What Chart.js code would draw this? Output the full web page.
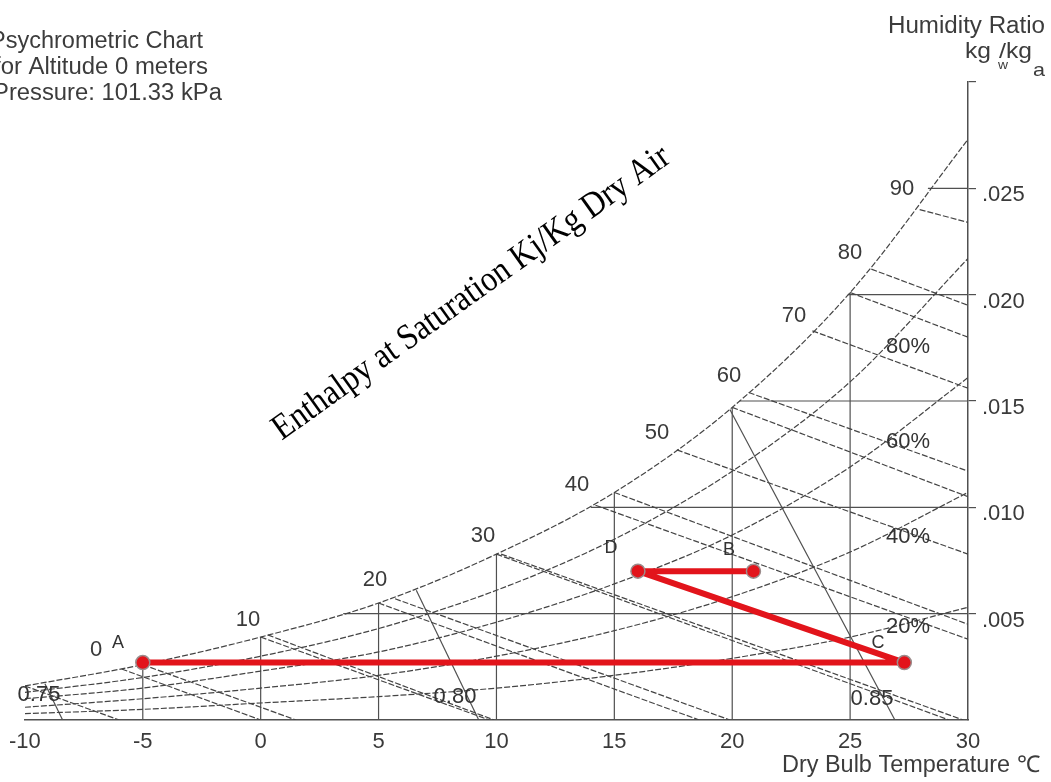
<!DOCTYPE html>
<html>
<head>
<meta charset="utf-8">
<script src="https://cdn.jsdelivr.net/npm/chart.js@4.4.1/dist/chart.umd.min.js"></script>
<style>
  html, body { margin: 0; padding: 0; background: #fff; }
  canvas { display: block; }
</style>
</head>
<body>
<canvas id="psy" width="1051" height="782"></canvas>
<script>
// dry bulb steps used for the curves (deg C)
const tempSteps = [-10, -5, 0, 5, 10, 15, 20, 25, 30];
const tempTicks = [-10, -5, 0, 5, 10, 15, 20, 25, 30];
const humidityTicks = [0.005, 0.010, 0.015, 0.020, 0.025, 0.030];

// humidity ratio, kg/kg
const saturationW = [0.0016, 0.0026, 0.0039, 0.0055, 0.0078, 0.0107, 0.0147, 0.0201, 0.0273];
const rh80W = [0.0013, 0.0020, 0.0030, 0.0043, 0.0061, 0.0085, 0.0117, 0.0159, 0.0217];
const rh60W = [0.0010, 0.0015, 0.0023, 0.0032, 0.0046, 0.0064, 0.0087, 0.0119, 0.0161];
const rh40W = [0.0006, 0.0010, 0.0015, 0.0021, 0.0030, 0.0042, 0.0058, 0.0079, 0.0107];
const rh20W = [0.0003, 0.0005, 0.0008, 0.0011, 0.0015, 0.0021, 0.0029, 0.0039, 0.0053];

// enthalpy lines (kJ/kg) : start on saturation, end on axis
const enthalpyValues = [0, 10, 20, 30, 40, 50, 60, 70, 80, 90];
const enthalpyStartT = [-5.9, 0.3, 5.7, 10.2, 14.2, 17.65, 20.7, 23.4, 25.9, 27.95];
const enthalpyStartW = [0.0024, 0.0040, 0.0057, 0.0078, 0.0101, 0.0127, 0.0154, 0.0183, 0.0212, 0.0240];
const enthalpyEndT = [0, 9.9, 19.9, 29.8, 30, 30, 30, 30, 30, 30];
const enthalpyEndW = [0, 0, 0, 0, 0.0038, 0.0078, 0.0117, 0.0156, 0.0195, 0.0234];

// wet bulb lines
const wetBulbT = [-10, -5, 0, 5, 10, 15, 20, 25];
const wetBulbStartW = [0.0016, 0.0026, 0.0039, 0.0055, 0.0078, 0.0107, 0.0147, 0.0201];
const wetBulbEndT = [-6.0, 1.5, 9.7, 18.6, 29.2, 30, 30, 30];
const wetBulbEndW = [0, 0, 0, 0, 0, 0.0045, 0.0105, 0.0180];

// specific volume lines m3/kg
const volumeValues = ['0.75', '0.80', '0.85'];
const volumeStartT = [-9.15, 6.6, 19.9];
const volumeStartW = [0.0017, 0.0061, 0.0146];
const volumeEndT = [-8.4, 9.25, 26.9];
const volumeEndW = [0, 0, 0];

// constant dry bulb / humidity ratio lines
const gridT = [-5, 0, 5, 10, 15, 20, 25];
const gridTopW = [0.0026, 0.0039, 0.0055, 0.0078, 0.0107, 0.0147, 0.0201];
const gridW = [0.005, 0.010, 0.015, 0.020, 0.025];
const gridStartT = [3.5, 14.0, 20.3, 24.9, 28.3];

// process A -> C -> D -> B
const processNames = ['A', 'C', 'D', 'B'];
const processT = [-5, 27.3, 16.0, 20.9];
const processW = [0.0027, 0.0027, 0.0070, 0.0070];

const LINE = '#444';

function seg(t0, w0, t1, w1) {
  return [{x: t0, y: w0}, {x: t1, y: w1}];
}
function curve(ws) {
  return tempSteps.map((t, i) => ({x: t, y: ws[i]}));
}
function thin(data, dashed, extra) {
  return Object.assign({
    data: data, showLine: true, pointRadius: 0, fill: false,
    borderColor: dashed ? LINE : '#505050', borderWidth: dashed ? 1.2 : 1.2,
    borderDash: dashed ? [6, 2] : []
  }, extra || {});
}

const datasets = [];
datasets.push({
  data: processT.map((t, i) => ({x: t, y: processW[i]})),
  showLine: true, borderColor: '#e2141b', borderWidth: 6,
  borderJoinStyle: 'round', borderCapStyle: 'round',
  pointRadius: 7, pointBackgroundColor: '#e2141b',
  pointBorderColor: '#9c8c8c', pointBorderWidth: 1.5
});
[saturationW, rh80W, rh60W, rh40W, rh20W].forEach(ws => {
  datasets.push(thin(curve(ws), true, {cubicInterpolationMode: 'monotone'}));
});
enthalpyValues.forEach((h, i) => {
  datasets.push(thin(seg(enthalpyStartT[i], enthalpyStartW[i], enthalpyEndT[i], enthalpyEndW[i]), true));
});
wetBulbT.forEach((t, i) => {
  datasets.push(thin(seg(t, wetBulbStartW[i], wetBulbEndT[i], wetBulbEndW[i]), true));
});
volumeValues.forEach((v, i) => {
  datasets.push(thin(seg(volumeStartT[i], volumeStartW[i], volumeEndT[i], volumeEndW[i]), false));
});
gridT.forEach((t, i) => datasets.push(thin(seg(t, 0, t, gridTopW[i]), false)));
gridW.forEach((w, i) => datasets.push(thin(seg(gridStartT[i], w, 30, w), false)));

// text that sits on the picture
function fitText(ctx, text, left, base, width, size, family, color) {
  ctx.save();
  ctx.font = size + 'px ' + family;
  ctx.fillStyle = color;
  ctx.textAlign = 'left';
  ctx.textBaseline = 'alphabetic';
  const m = ctx.measureText(text).width;
  ctx.translate(left, base);
  ctx.scale(width / m, 1);
  ctx.fillText(text, 0, 0);
  ctx.restore();
}
function label(ctx, text, cx, cy, size, color) {
  ctx.save();
  ctx.font = size + 'px "Liberation Sans", Arial, sans-serif';
  ctx.fillStyle = color || '#3a3a3a';
  ctx.textAlign = 'center';
  ctx.textBaseline = 'middle';
  ctx.fillText(text, cx, cy);
  ctx.restore();
}

const overlay = {
  id: 'overlay',
  afterDraw(chart) {
    const ctx = chart.ctx;
    const sans = '"Liberation Sans", Arial, sans-serif';
    const grey = '#3c3c3c';
    fitText(ctx, 'Psychrometric Chart', -10, 48, 213, 23, sans, grey);
    fitText(ctx, 'for Altitude 0 meters', -6, 74, 214, 23, sans, grey);
    fitText(ctx, 'Pressure: 101.33 kPa', -7, 100, 229, 23, sans, grey);

    fitText(ctx, 'Humidity Ratio', 888, 33, 157, 23, sans, grey);
    fitText(ctx, 'kg', 965, 58, 26, 22, sans, grey);
    fitText(ctx, '/', 999, 58, 7, 20, sans, grey);
    fitText(ctx, 'w', 998, 69, 10, 13, sans, grey);
    fitText(ctx, 'kg', 1006, 58, 26, 22, sans, grey);
    fitText(ctx, 'a', 1033, 76, 12, 19, sans, grey);

    fitText(ctx, 'Dry Bulb Temperature \u2103', 782, 772, 258, 23, sans, grey);

    // enthalpy scale along saturation
    const hPos = [[96, 650], [248, 620], [375, 580], [483, 536], [577, 485],
                  [657, 433], [729, 376], [794, 316], [850, 253], [902, 189]];
    enthalpyValues.forEach((h, i) => label(ctx, String(h), hPos[i][0], hPos[i][1], 22));

    // relative humidity
    const rhText = ['80%', '60%', '40%', '20%'];
    const rhY = [347, 442, 537, 627];
    rhText.forEach((t, i) => label(ctx, t, 908, rhY[i], 22, '#333'));

    // specific volume
    const vPos = [[39, 695], [455, 697], [872, 699]];
    volumeValues.forEach((v, i) => label(ctx, v, vPos[i][0], vPos[i][1], 22, '#333'));

    // process letters
    const lPos = {A: [118, 643], C: [878, 643], D: [611, 548], B: [729, 550]};
    processNames.forEach(n => label(ctx, n, lPos[n][0], lPos[n][1], 18, '#333'));

    // rotated note
    ctx.save();
    ctx.translate(477, 301);
    ctx.rotate(-35.6 * Math.PI / 180);
    ctx.font = '36px "Liberation Serif", "Times New Roman", serif';
    const txt = 'Enthalpy at Saturation Kj/Kg Dry Air';
    const m = ctx.measureText(txt).width;
    ctx.scale(480 / m, 1);
    ctx.fillStyle = '#000';
    ctx.textAlign = 'center';
    ctx.textBaseline = 'alphabetic';
    ctx.fillText(txt, 0, 0);
    ctx.restore();
  }
};

new Chart(document.getElementById('psy'), {
  type: 'scatter',
  data: {datasets: datasets},
  options: {
    responsive: false,
    animation: false,
    layout: {padding: {left: 23, top: 82, right: 0, bottom: 0}},
    plugins: {legend: {display: false}, tooltip: {enabled: false}},
    scales: {
      x: {
        type: 'linear', min: -10, max: 30,
        afterBuildTicks: s => { s.ticks = tempTicks.map(v => ({value: v})); },
        afterFit: s => { s.height = 62; },
        grid: {display: false, drawTicks: false},
        border: {display: true, color: '#505050', width: 1.5},
        ticks: {
          color: '#3a3a3a', padding: 9, maxRotation: 0, autoSkip: false,
          font: {family: '"Liberation Sans", Arial, sans-serif', size: 22}
        }
      },
      y: {
        type: 'linear', position: 'right', min: 0, max: 0.03,
        afterBuildTicks: s => { s.ticks = humidityTicks.map(v => ({value: v})); },
        afterFit: s => { s.width = 83; },
        grid: {drawOnChartArea: false, tickLength: 8, color: '#505050', lineWidth: 1.2},
        border: {display: true, color: '#505050', width: 1.5},
        ticks: {
          color: '#3a3a3a', padding: 6, labelOffset: 7,
          font: {family: '"Liberation Sans", Arial, sans-serif', size: 22},
          callback: v => (v > 0.0295 ? '' : v.toFixed(3).slice(1))
        }
      }
    }
  },
  plugins: [overlay]
});
</script>
</body>
</html>
